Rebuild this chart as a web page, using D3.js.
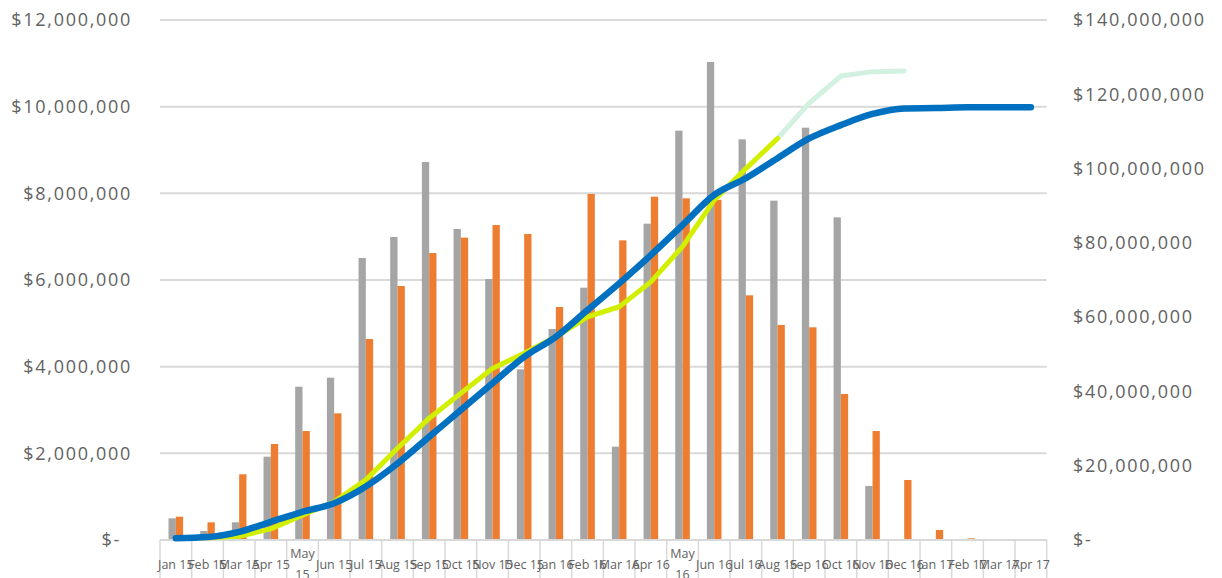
<!DOCTYPE html>
<html>
<head>
<meta charset="utf-8">
<script src="https://cdn.jsdelivr.net/npm/d3@7"></script>
<style>
  html, body { margin: 0; padding: 0; background: #fff; }
  svg { display: block; }
  text { font-family: "Open Sans", sans-serif; fill: #626262; }
</style>
</head>
<body>
<svg id="chart" width="1222" height="578"></svg>
<script>
const months = ["Jan 15","Feb 15","Mar 15","Apr 15","May 15","Jun 15","Jul 15","Aug 15","Sep 15","Oct 15","Nov 15","Dec 15",
                "Jan 16","Feb 16","Mar 16","Apr 16","May 16","Jun 16","Jul 16","Aug 16","Sep 16","Oct 16","Nov 16","Dec 16",
                "Jan 17","Feb 17","Mar 17","Apr 17"];
// monthly values (left axis)
const grayMonthly = [500000,208000,408000,1923000,3538000,3746000,6508000,6992000,8723000,7177000,6023000,3938000,
                     4869000,5823000,2154000,7300000,9446000,11031000,9246000,7831000,9515000,7446000,1246000,0,
                     0,0,0,0];
const orangeMonthly = [538000,408000,1516000,2215000,2515000,2923000,4638000,5862000,6623000,6977000,7269000,7062000,
                       5377000,7985000,6915000,7923000,7885000,7850000,5646000,4962000,4908000,3369000,2515000,1385000,
                       231000,38000,0,0];
// cumulative lines (right axis)
const blueCum = [0.5,0.8,2.2,4.9,7.6,9.9,14.4,20.6,27.8,35.0,42.2,49.3,
                 54.7,61.9,69.1,76.7,84.8,92.9,97.4,102.8,108.1,111.7,114.7,116.2,
                 116.3,116.5,116.5,116.5].map(v => v * 1e6);
const yellowCum = [0.5,0.6,1.0,3.0,6.7,10.3,16.2,24.7,32.8,39.5,46.2,50.3,
                   54.7,60.1,62.8,69.5,79.0,91.5,100.0,108.1,null,null,null,null,
                   null,null,null,null].map(v => v == null ? null : v * 1e6);
const mintCum = [null,null,null,null,null,null,null,null,null,null,null,null,
                 null,null,null,null,null,null,null,108.1,117.6,124.9,126.1,126.3,
                 null,null,null,null].map(v => v == null ? null : v * 1e6);
const leftTicks = [0,2e6,4e6,6e6,8e6,10e6,12e6];
const rightTicks = [0,20e6,40e6,60e6,80e6,100e6,120e6,140e6];

const svg = d3.select("#chart");
const L = 160, R = 1046.7, T = 20, B = 540;

const x = d3.scaleBand().domain(months).range([L, R]).paddingInner(0).paddingOuter(0);
const inner = d3.scaleBand().domain(["g","o"]).range([0, 14.6]);
const yL = d3.scaleLinear().domain([0, 12e6]).range([B, T]);
const yR = d3.scaleLinear().domain([0, 140e6]).range([B, T]);

const fmt = d3.format(",");
const money = v => v === 0 ? "$-" : "$" + fmt(v);

// gridlines
svg.append("g").selectAll("line").data(leftTicks.filter(d => d > 0)).join("line")
  .attr("x1", L).attr("x2", R).attr("y1", d => yL(d)).attr("y2", d => yL(d))
  .attr("stroke", "#d9d9d9").attr("stroke-width", 2);

// bars
const bw = x.bandwidth();
const barG = svg.append("g");
months.forEach((m, i) => {
  const x0 = x(m) + bw / 2 - 7.3;
  barG.append("rect").attr("x", x0 + inner("g")).attr("width", inner.bandwidth())
    .attr("y", yL(grayMonthly[i])).attr("height", B - yL(grayMonthly[i])).attr("fill", "#a5a5a5");
  barG.append("rect").attr("x", x0 + inner("o")).attr("width", inner.bandwidth())
    .attr("y", yL(orangeMonthly[i])).attr("height", B - yL(orangeMonthly[i])).attr("fill", "#ed7d31");
});

// x axis line + tick marks
svg.append("line").attr("x1", L).attr("x2", R).attr("y1", B).attr("y2", B)
  .attr("stroke", "#d9d9d9").attr("stroke-width", 2);
const bounds = months.map(m => x(m)).concat([R]);
svg.append("g").selectAll("line").data(bounds).join("line")
  .attr("x1", d => d).attr("x2", d => d).attr("y1", B).attr("y2", 578)
  .attr("stroke", "#d9d9d9").attr("stroke-width", 1.5);

// lines
const cx = (d, i) => x(months[i]) + bw / 2;
const lineMint = d3.line().defined(d => d != null).x(cx).y(d => yR(d));
const lineYellow = d3.line().defined(d => d != null).x(cx).y(d => yR(d));
const lineBlue = d3.line().x(cx).y(d => yR(d)).curve(d3.curveMonotoneX);

svg.append("path").attr("d", lineMint(mintCum)).attr("fill", "none")
  .attr("stroke", "#d3f1e1").attr("stroke-width", 5).attr("stroke-linecap", "round").attr("stroke-linejoin", "round");
svg.append("path").attr("d", lineYellow(yellowCum)).attr("fill", "none")
  .attr("stroke", "#d2ef00").attr("stroke-width", 5).attr("stroke-linecap", "round").attr("stroke-linejoin", "round");
svg.append("path").attr("d", lineBlue(blueCum)).attr("fill", "none")
  .attr("stroke", "#0070c0").attr("stroke-width", 6.5).attr("stroke-linecap", "round").attr("stroke-linejoin", "round");

// left axis labels
svg.append("g").selectAll("text").data(leftTicks).join("text")
  .attr("x", d => d === 0 ? 121 : 132).attr("y", d => yL(d)).attr("dy", "0.35em")
  .attr("text-anchor", "end").style("font-size", "18px").style("letter-spacing", "1.7px")
  .text(money);

// right axis labels
svg.append("g").selectAll("text").data(rightTicks).join("text")
  .attr("x", 1073).attr("y", d => yR(d)).attr("dy", "0.35em")
  .attr("text-anchor", "start").style("font-size", "18px").style("letter-spacing", "1.7px")
  .text(money);

// x labels
const xl = svg.append("g");
months.forEach(m => {
  const t = xl.append("text").attr("x", x(m) + bw / 2).attr("text-anchor", "middle").style("font-size", "12.5px");
  if (m.startsWith("May")) {
    const parts = m.split(" ");
    t.append("tspan").attr("x", x(m) + bw / 2).attr("y", 558).text(parts[0]);
    t.append("tspan").attr("x", x(m) + bw / 2).attr("y", 579).text(parts[1]);
  } else {
    t.attr("y", 569).text(m);
  }
});
</script>
</body>
</html>
